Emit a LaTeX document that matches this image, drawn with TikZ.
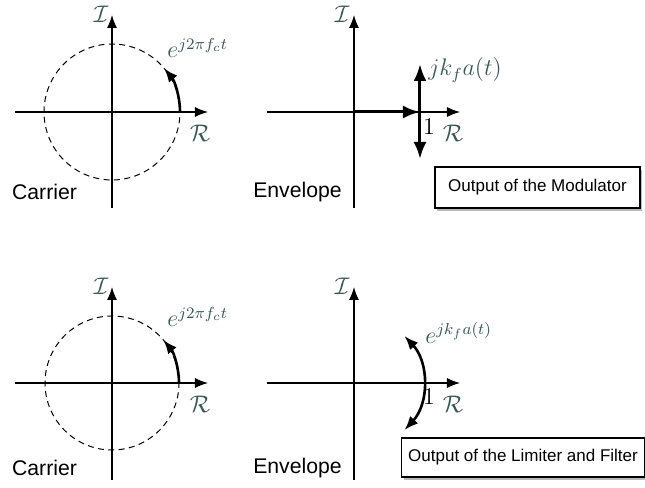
\documentclass[tikz,border=0pt]{standalone}
\usepackage{fontspec}
\setmainfont{Liberation Sans}
\usepackage{amsmath}
\usetikzlibrary{arrows.meta,shadows,calc}
\definecolor{slate}{HTML}{3B5656}
\definecolor{shade}{HTML}{8A8A8A}

\begin{document}
\begin{tikzpicture}[x=0.5pt, y=0.5pt,
    ax/.style={line width=0.55pt, -{Latex[length=6.5pt, width=5pt]}},
    thk/.style={line width=1.3pt, -{Latex[length=7pt, width=5.5pt]}},
    big/.style={line width=1.5pt, -{Latex[length=8.5pt, width=6.5pt]}},
    bigg/.style={line width=1.5pt, {Latex[length=8.5pt, width=6.5pt]}-{Latex[length=8.5pt, width=6.5pt]}},
    thkk/.style={line width=1.3pt, {Latex[length=7pt, width=5.5pt]}-{Latex[length=7pt, width=5.5pt]}},
    dsh/.style={dashed, line width=0.5pt, dash pattern=on 3pt off 2.2pt},
    ml/.style={text=slate, font=\fontsize{12}{14}\selectfont, inner sep=0pt},
    nm/.style={font=\fontsize{10.6}{12}\selectfont, inner sep=0pt},
    one/.style={font=\fontsize{11.5}{13}\selectfont, inner sep=0pt},
    outbox/.style={draw, line width=0.6pt, fill=white, font=\fontsize{8.5}{10}\selectfont,
      drop shadow={shadow xshift=1.2pt, shadow yshift=-1.4pt, fill=shade, opacity=0.6}}]

  \useasboundingbox (0,0) rectangle (645,488);

  % ── top left: carrier ──
  \coordinate (o1) at (112,376);
  \coordinate (yb1) at (112,280); \coordinate (yt1) at (112,473);
  \coordinate (xl1) at (15,376);  \coordinate (xr1) at (208,376);
  \coordinate (p1) at (180,376);
  \draw[dsh] (o1) circle[radius=68];
  \draw[ax] (yb1) -- (yt1);
  \draw[ax] (xl1) -- (xr1);
  \draw[thk] (p1) arc[start angle=0, end angle=40, radius=68];
  \node[ml] (im1) at (101,474) {$\mathcal{I}$};
  \node[ml] (re1) at (200,355) {$\mathcal{R}$};
  \node[ml, anchor=west] (ec1) at (167,440) {$e^{j2\pi f_c t}$};
  \node[nm] (car1) at (44.5,296) {Carrier};

  % ── top right: envelope at the modulator ──
  \coordinate (o2) at (354,376);
  \coordinate (yb2) at (354,280); \coordinate (yt2) at (354,473);
  \coordinate (xl2) at (267,376); \coordinate (xr2) at (460,376);
  \coordinate (one2) at (420,376);
  \coordinate (up2) at (420,424); \coordinate (dn2) at (420,329);
  \draw[ax] (yb2) -- (yt2);
  \draw[ax] (xl2) -- (xr2);
  \draw[big] (o2) -- (one2);
  \draw[bigg] (dn2) -- (up2);
  \node[ml] (im2) at (342,474) {$\mathcal{I}$};
  \node[ml] (re2) at (453,355) {$\mathcal{R}$};
  \node[one] (n2) at (429,361) {$1$};
  \node[ml, anchor=west] (jk2) at (428,418) {$jk_f a(t)$};
  \node[nm] (env2) at (297.5,296) {Envelope};
  \node[outbox, minimum width=102.5pt, minimum height=20.5pt] (mod) at (537.5,300.5)
    {Output of the Modulator};

  % ── bottom left: carrier ──
  \coordinate (o3) at (112,105);
  \coordinate (yb3) at (112,8);  \coordinate (yt3) at (112,201);
  \coordinate (xl3) at (15,105); \coordinate (xr3) at (208,105);
  \coordinate (p3) at (179,105);
  \draw[dsh] (o3) circle[radius=67];
  \draw[ax] (yb3) -- (yt3);
  \draw[ax] (xl3) -- (xr3);
  \draw[thk] (p3) arc[start angle=0, end angle=40, radius=67];
  \node[ml] (im3) at (101,202) {$\mathcal{I}$};
  \node[ml] (re3) at (200,84) {$\mathcal{R}$};
  \node[ml, anchor=west] (ec3) at (167,171) {$e^{j2\pi f_c t}$};
  \node[nm] (car3) at (44.5,20) {Carrier};

  % ── bottom right: envelope after limiter and filter ──
  \coordinate (o4) at (354,105);
  \coordinate (yb4) at (354,8);   \coordinate (yt4) at (354,201);
  \coordinate (xl4) at (267,105); \coordinate (xr4) at (460,105);
  \coordinate (lo4) at ($(o4)+(-43:69)$);
  \draw[ax] (yb4) -- (yt4);
  \draw[ax] (xl4) -- (xr4);
  \draw[thkk] (lo4) arc[start angle=-43, end angle=43, radius=69];
  \node[ml] (im4) at (342,202) {$\mathcal{I}$};
  \node[ml] (re4) at (453,84) {$\mathcal{R}$};
  \node[one] (n4) at (429,91) {$1$};
  \node[ml, anchor=west] (ek4) at (425,155) {$e^{jk_f a(t)}$};
  \node[nm] (env4) at (297.5,20) {Envelope};
  \node[outbox, minimum width=117pt, minimum height=19.5pt] (lim) at (523,30.5)
    {Output of the Limiter and Filter};
\end{tikzpicture}
\end{document}
